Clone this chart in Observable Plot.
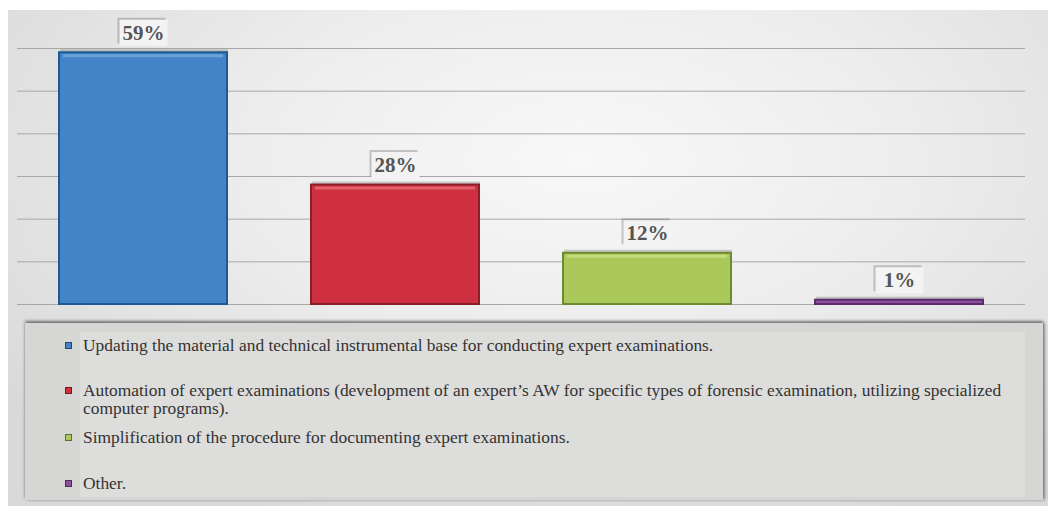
<!DOCTYPE html>
<html><head><meta charset="utf-8">
<script src="https://cdn.jsdelivr.net/npm/d3@7"></script>
<script src="https://cdn.jsdelivr.net/npm/@observablehq/plot@0.6"></script>
<style>
html,body{margin:0;padding:0}
body{width:1048px;height:506px;background:#fff;overflow:hidden;position:relative;font-family:"Liberation Serif",serif}
#frame{position:absolute;left:8px;top:10px;width:1040px;height:496px;
 background:radial-gradient(ellipse 70% 80% at 55% 30%, #f8f8f8 0%, #ededed 45%, #d9d9d9 100%);}
#chart{position:absolute;left:0;top:0}
#legend{position:absolute;left:25px;top:323px;width:1018px;height:177px;background:#d6d6d5;
 box-shadow:0 -2px 3px rgba(0,0,0,0.45), 2px 0 3px rgba(0,0,0,0.3);}
#legendInner{position:absolute;left:55px;top:9px;width:945px;height:165px;background:#dddddc}
.item{position:absolute;left:0;color:#333;font-size:17.4px;line-height:18px}
.item .sw{position:absolute;left:-15px;top:6px;width:7px;height:7px;box-sizing:border-box;border:1px solid rgba(0,0,0,0.45)}
.item .tx{position:absolute;left:3px;top:0;width:940px;white-space:nowrap}
</style></head>
<body>
<div id="frame"></div>
<div id="chart"></div>
<div id="legend"><div id="legendInner"></div></div>
<script>
const categories = [
  "Updating the material and technical instrumental base for conducting expert examinations.",
  "Automation of expert examinations (development of an expert\u2019s AW for specific types of forensic examination, utilizing specialized|computer programs).",
  "Simplification of the procedure for documenting expert examinations.",
  "Other."
];
const shares = [59, 28, 12, 1];
const barColors = ["#4384c6", "#cf3040", "#abc85a", "#8c4f9f"];
const edgeColors = ["#1d5a94", "#8a1f29", "#6e8a2e", "#5a2d69"];
const highlightColors = ["#6aa3da", "#e2606c", "#c3dc7e", "#a874b8"];
const gridTicks = [0, 10, 20, 30, 40, 50, 60];
const legendTops = [4, 49, 96, 142];

const data = categories.map((c, i) => ({
  category: c, share: shares[i], fill: barColors[i], edge: edgeColors[i], hi: highlightColors[i],
  label: shares[i] + "%"
}));

const boxSymbol = {draw(ctx) { ctx.rect(-24, -13, 48, 26); }};

const chart = Plot.plot({
  width: 1048, height: 315,
  marginLeft: 17, marginRight: 23, marginTop: 48, marginBottom: 11,
  x: {domain: categories, paddingInner: 1/3, paddingOuter: 1/6, axis: null},
  y: {domain: [0, 60], axis: null},
  color: {type: "identity"},
  style: {background: "transparent"},
  marks: [
    Plot.ruleY(gridTicks, {stroke: "#a8a8a8", strokeWidth: 1}),
    Plot.barY(data, {x: "category", y: "share", fill: "#555", fillOpacity: 0.28, dy: -3, dx: 1}),
    Plot.barY(data, {x: "category", y: "share", fill: "fill", stroke: "edge", strokeWidth: 2}),
    Plot.tickY(data.filter(d => d.share > 2), {x: "category", y: "share", stroke: "hi", strokeWidth: 3, dy: 3, insetLeft: 4, insetRight: 4}),
    Plot.dot(data, {x: "category", y: "share", dy: -22, dx: -2, symbol: boxSymbol, fill: "#666", fillOpacity: 0.35}),
    Plot.dot(data, {x: "category", y: "share", dy: -20, symbol: boxSymbol, fill: "#f3f3f3"}),
    Plot.text(data, {x: "category", y: "share", dy: -20, text: "label", fontSize: 21, fontWeight: "bold",
      fill: "#555", fontFamily: "Liberation Serif"})
  ]
});
document.getElementById("chart").appendChild(chart);

const inner = d3.select("#legendInner");
categories.forEach((c, i) => {
  const it = inner.append("div").attr("class", "item").style("top", legendTops[i] + "px");
  it.append("div").attr("class", "sw").style("background", barColors[i]);
  const tx = it.append("div").attr("class", "tx");
  c.split("|").forEach((line, j) => {
    if (j) tx.append("br");
    tx.append("span").text(line);
  });
});
</script>
</body></html>
